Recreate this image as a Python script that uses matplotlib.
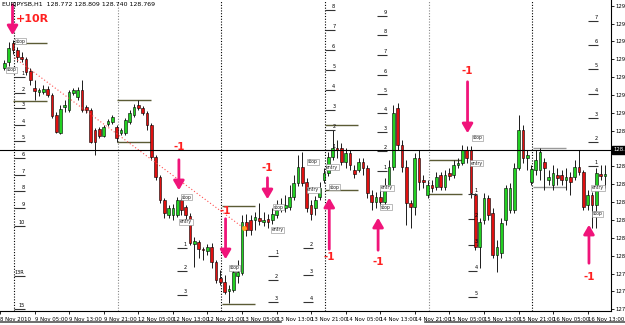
import matplotlib
matplotlib.use("Agg")
import matplotlib.pyplot as plt
import matplotlib.transforms as mtransforms
import numpy as np

# H1 candles, one per hour
opens = [129.344, 129.386, 129.519, 129.470, 129.421, 129.407, 129.323, 129.204, 129.176, 129.176,
         129.197, 129.155, 129.015, 128.889, 129.071, 129.050, 129.169, 129.141, 129.190, 129.071,
         129.050, 128.910, 128.917, 128.868, 128.952, 128.966, 128.931, 128.889, 128.889, 128.966,
         129.015, 129.085, 129.064, 129.029, 128.945, 128.721, 128.581, 128.420, 128.315, 128.315,
         128.315, 128.420, 128.371, 128.308, 128.112, 128.126, 128.077, 128.063, 128.091, 127.986,
         127.874, 127.846, 127.783, 127.790, 127.888, 127.909, 128.266, 128.280, 128.280, 128.294,
         128.266, 128.287, 128.280, 128.315, 128.357, 128.364, 128.371, 128.441, 128.539, 128.651,
         128.546, 128.385, 128.364, 128.441, 128.560, 128.609, 128.721, 128.784, 128.784, 128.686,
         128.749, 128.630, 128.630, 128.686, 128.644, 128.455, 128.406, 128.441, 128.406, 128.511,
         128.651, 129.064, 128.805, 128.651, 128.399, 128.371, 128.714, 128.560, 128.455, 128.525,
         128.511, 128.595, 128.511, 128.609, 128.595, 128.665, 128.679, 128.770, 128.770, 128.455,
         128.091, 128.280, 128.434, 128.329, 128.035, 128.049, 128.280, 128.350, 128.350, 128.644,
         128.910, 128.714, 128.546, 128.630, 128.630, 128.686, 128.560, 128.525, 128.595, 128.595,
         128.560, 128.581, 128.581, 128.651, 128.616, 128.385, 128.455, 128.385, 128.602, 128.588]
highs = [129.400, 129.526, 129.540, 129.491, 129.456, 129.421, 129.344, 129.260, 129.204, 129.225,
         129.218, 129.169, 129.036, 129.085, 129.120, 129.190, 129.204, 129.211, 129.260, 129.085,
         129.064, 128.924, 128.931, 128.945, 128.987, 129.015, 128.945, 128.924, 128.994, 129.050,
         129.092, 129.120, 129.078, 129.043, 128.959, 128.735, 128.595, 128.434, 128.385, 128.392,
         128.441, 128.434, 128.385, 128.329, 128.161, 128.140, 128.091, 128.112, 128.119, 128.000,
         127.930, 127.895, 127.825, 127.930, 128.000, 128.315, 128.322, 128.315, 128.336, 128.399,
         128.336, 128.322, 128.364, 128.420, 128.434, 128.455, 128.525, 128.595, 128.735, 128.756,
         128.574, 128.420, 128.448, 128.546, 128.644, 128.756, 128.910, 128.840, 128.819, 128.784,
         128.770, 128.665, 128.714, 128.714, 128.665, 128.490, 128.476, 128.490, 128.574, 128.700,
         129.085, 129.099, 128.840, 128.700, 128.420, 128.749, 128.770, 128.595, 128.560, 128.560,
         128.616, 128.616, 128.630, 128.644, 128.700, 128.714, 128.805, 128.798, 128.798, 128.469,
         128.294, 128.469, 128.455, 128.364, 128.140, 128.294, 128.525, 128.539, 128.679, 129.015,
         128.945, 128.770, 128.665, 128.770, 128.784, 128.714, 128.630, 128.665, 128.644, 128.630,
         128.644, 128.616, 128.700, 128.770, 128.630, 128.490, 128.476, 128.644, 128.665, 128.665]
lows = [129.330, 129.358, 129.442, 129.386, 129.386, 129.295, 129.225, 129.120, 129.148, 129.162,
        129.141, 128.994, 128.889, 128.882, 129.036, 129.036, 129.155, 129.120, 129.036, 129.029,
        128.819, 128.735, 128.854, 128.861, 128.938, 128.952, 128.826, 128.875, 128.875, 128.952,
        129.001, 129.050, 129.015, 128.910, 128.700, 128.560, 128.399, 128.294, 128.294, 128.280,
        128.301, 128.315, 128.280, 128.105, 127.951, 128.014, 128.000, 128.035, 127.944, 127.839,
        127.825, 127.762, 127.699, 127.776, 127.839, 127.895, 128.168, 128.175, 128.210, 128.245,
        128.238, 128.224, 128.252, 128.294, 128.336, 128.336, 128.350, 128.420, 128.518, 128.518,
        128.336, 128.280, 128.315, 128.420, 128.539, 128.588, 128.700, 128.714, 128.665, 128.644,
        128.630, 128.574, 128.616, 128.595, 128.434, 128.350, 128.364, 128.378, 128.385, 128.490,
        128.630, 128.770, 128.616, 128.245, 128.224, 128.315, 128.490, 128.504, 128.434, 128.476,
        128.490, 128.490, 128.490, 128.560, 128.574, 128.644, 128.665, 128.679, 128.434, 128.070,
        127.944, 128.252, 128.280, 128.014, 127.916, 128.014, 128.245, 128.329, 128.329, 128.630,
        128.679, 128.630, 128.525, 128.595, 128.560, 128.490, 128.525, 128.490, 128.525, 128.525,
        128.490, 128.455, 128.560, 128.595, 128.350, 128.350, 128.224, 128.224, 128.560, 128.504]
closes = [129.379, 129.484, 129.470, 129.421, 129.407, 129.316, 129.260, 129.183, 129.190, 129.197,
          129.155, 129.008, 128.896, 129.057, 129.085, 129.176, 129.190, 129.190, 129.050, 129.050,
          128.826, 128.826, 128.868, 128.931, 128.973, 129.001, 128.854, 128.910, 128.980, 129.029,
          129.071, 129.064, 129.029, 128.945, 128.721, 128.581, 128.420, 128.329, 128.364, 128.364,
          128.420, 128.350, 128.315, 128.119, 128.133, 128.077, 128.070, 128.091, 127.986, 127.860,
          127.846, 127.776, 127.797, 127.916, 127.916, 128.266, 128.210, 128.210, 128.301, 128.273,
          128.280, 128.266, 128.322, 128.350, 128.371, 128.385, 128.441, 128.539, 128.651, 128.539,
          128.364, 128.322, 128.420, 128.504, 128.609, 128.721, 128.784, 128.770, 128.686, 128.749,
          128.665, 128.602, 128.686, 128.644, 128.469, 128.406, 128.441, 128.406, 128.511, 128.651,
          129.029, 128.805, 128.651, 128.399, 128.371, 128.714, 128.546, 128.546, 128.525, 128.504,
          128.581, 128.511, 128.595, 128.588, 128.665, 128.679, 128.770, 128.714, 128.469, 128.091,
          128.266, 128.434, 128.315, 128.035, 128.091, 128.259, 128.504, 128.504, 128.644, 128.910,
          128.714, 128.735, 128.637, 128.700, 128.756, 128.644, 128.581, 128.609, 128.574, 128.560,
          128.581, 128.546, 128.651, 128.616, 128.371, 128.455, 128.385, 128.609, 128.588, 128.602]

time_ticks = [-1, 7, 15, 23, 31, 39, 47, 55, 63, 71, 79, 87, 95, 103, 111, 119, 127, 135]
time_labels = ["8 Nov 2010", "9 Nov 05:00", "9 Nov 13:00", "9 Nov 21:00", "12 Nov 05:00",
               "12 Nov 13:00", "12 Nov 21:00", "13 Nov 05:00", "13 Nov 13:00", "13 Nov 21:00",
               "14 Nov 05:00", "14 Nov 13:00", "14 Nov 21:00", "15 Nov 05:00", "15 Nov 13:00",
               "15 Nov 21:00", "16 Nov 05:00", "16 Nov 13:00"]
price_ticks = [129.78, 129.655, 129.53, 129.405, 129.28, 129.155, 129.03, 128.905, 128.655,
               128.53, 128.405, 128.28, 128.155, 128.03, 127.905, 127.78, 127.655]
bid_price = 128.77
title = "EURJPYSB,H1  128.772 128.809 128.740 128.769"

# day separators (bar index) and their colours
day_starts = [2.2, 26.2, 50.2, 74.2, 98.2, 122.2]
day_colors = ["black", "#888888", "black", "black", "#888888", "black"]

# opening range lines: start bar, end bar, high, low, colour
box_start = [2.1, 26.1, 50.3, 74.3, 98.2, 122.4]
box_end = [9.8, 34.0, 57.9, 81.9, 106.0, 130.0]
box_high = [129.519, 129.12, 128.378, 128.945, 128.70, 128.784]
box_low = [129.113, 128.826, 127.692, 128.49, 128.462, 128.511]
box_colors = ["#5b5b35", "#5b5b35", "#5b5b35", "#5b5b35", "#5b5b35", "#9a9a9a"]

# target levels drawn as short numbered ticks
lvl_x = [(2.3, 4.7), (39.9, 42.2), (61.1, 63.4), (69.2, 71.5), (74.3, 76.6),
         (86.2, 88.5), (107.2, 109.5), (135.1, 137.4)]
lvl_prices = [[129.281, 129.169, 129.064, 128.945, 128.833, 128.714, 128.595, 128.483,
               128.364, 128.238, 127.888, 127.657],
              [128.084, 127.923, 127.755],
              [128.028, 127.860, 127.706],
              [128.084, 127.895, 127.706],
              [128.77, 128.91, 129.05, 129.19, 129.33, 129.47, 129.61, 129.75],
              [128.623, 128.763, 128.896, 129.029, 129.162, 129.295, 129.435, 129.575, 129.708],
              [128.462, 128.287, 128.105, 127.923, 127.741],
              [128.658, 128.826, 128.994, 129.162, 129.337, 129.505, 129.673]]
lvl_labels = [["1", "2", "3", "4", "5", "6", "7", "8", "9", "10", "13R", "15"],
              ["1", "2", "3"], ["1", "2", "3"], ["2", "3", "4"],
              ["1", "2", "3", "4", "5", "6", "7", "8"],
              ["1", "2", "3", "4", "5", "6", "7", "8", "9"],
              ["1", "2", "3", "4", "5"],
              ["1", "2", "3", "4", "5", "6", "7"]]

# trade arrows: bar, tail price, head price, result text, text price
arrow_x = [1.9, 40.4, 51.2, 60.9, 75.2, 86.5, 107.2, 135.3]
arrow_from = [129.806, 128.721, 128.308, 128.595, 128.056, 128.049, 129.267, 127.958]
arrow_to = [129.554, 128.469, 127.986, 128.406, 128.455, 128.315, 128.868, 128.266]
arrow_text = ["+10R", "-1", "-1", "-1", "-1", "-1", "-1", "-1"]
text_price = [129.687, 128.79, 128.345, 128.644, 128.021, 127.986, 129.323, 127.881]

# small order labels
tag_x = [2.6, 0.5, 41.0, 40.6, 52.1, 61.8, 62.3, 70.3, 70.1, 74.5, 75.2, 87.2, 87.2, 108.4, 107.9, 136.0, 136.2]
tag_price = [129.533, 129.33, 128.441, 128.266, 127.944, 128.21, 128.371, 128.686, 128.49,
             128.651, 128.511, 128.504, 128.371, 128.854, 128.679, 128.504, 128.322]
tag_text = ["stop", "stop", "stop", "entry", "stop", "entry", "stop", "stop", "entry",
            "entry", "stop", "entry", "stop", "stop", "entry", "entry", "stop"]

# trend line from the short entry down to the low
trend_x = [2.4, 55.4]
trend_y = [129.414, 128.224]

small_font = ["Liberation Sans Narrow", "DejaVu Sans"]

fig = plt.figure(figsize=(6.25, 3.25), dpi=100)
ax = fig.add_axes([0, 14 / 325, 611 / 625, 311 / 325])
ax.set_xlim(-0.39, 140.4)
ax.set_ylim(127.643, 129.82)

# day separators
for d, c in zip(day_starts, day_colors):
    ax.axvline(d, color=c, lw=0.8, ls=(0, (1, 1.5)), zorder=1)

# opening range lines
for xs, xe, hi, lo, c in zip(box_start, box_end, box_high, box_low, box_colors):
    ax.hlines([hi, lo], xs, xe, color=c, lw=1.0, zorder=1)

# candles
o = np.array(opens)
h = np.array(highs)
l = np.array(lows)
c = np.array(closes)
idx = np.arange(len(c))
up = c >= o
ax.vlines(idx, l, h, color="#1a1a1a", lw=0.7, zorder=2)
body = np.maximum(np.abs(c - o), 0.005)
ax.bar(idx, body, bottom=np.minimum(o, c), width=0.62,
       color=np.where(up, "#22d022", "#e01010"), edgecolor="black", lw=0.4, zorder=3)

# numbered levels
for (xs, xe), prices, labels in zip(lvl_x, lvl_prices, lvl_labels):
    ax.hlines(prices, xs, xe, color="#333333", lw=0.8, zorder=2)
    for p, t in zip(prices, labels):
        ax.text(xe, p + 0.008, t, fontsize=3.6, ha="right", va="bottom",
                family=small_font, zorder=4)

# order tags
for x, p, t in zip(tag_x, tag_price, tag_text):
    ax.text(x, p, t, fontsize=3.3, ha="left", va="center", color="#222222",
            family=small_font, zorder=5,
            bbox=dict(boxstyle="square,pad=0.15", fc="white", ec="#888888", lw=0.4))

# trend line
ax.plot(trend_x, trend_y, color="#ff5050", lw=0.8, ls=(0, (1, 2)), zorder=4)
ax.plot(trend_x[1], trend_y[1], "o", ms=2.5, color="#ffa020", zorder=5)

# bid line
ax.axhline(bid_price, color="black", lw=0.8, zorder=4)

# arrows and results
for x, p0, p1, t, tp in zip(arrow_x, arrow_from, arrow_to, arrow_text, text_price):
    ax.annotate("", xy=(x, p1), xytext=(x, p0),
                arrowprops=dict(arrowstyle="-|>,head_length=0.6,head_width=0.35",
                                color="#f0147a", lw=2, mutation_scale=9),
                zorder=6)
    if t.startswith("+"):
        ax.text(x + 0.8, tp, t, fontsize=8, fontweight="bold", color="#ff2020",
                ha="left", va="center", zorder=6)
    else:
        ax.text(x, tp, t, fontsize=7.5, fontweight="bold", color="#ff2020",
                ha="center", va="center", zorder=6)

# axes styling like the terminal
for s in ["top", "left"]:
    ax.spines[s].set_visible(False)
ax.spines["right"].set_linewidth(0.8)
ax.spines["bottom"].set_linewidth(0.8)
ax.yaxis.tick_right()
ax.set_yticks(price_ticks)
ax.set_yticklabels(["%.2f" % v for v in price_ticks], fontsize=3.9, family=small_font)
ax.tick_params(axis="y", direction="out", length=2, width=0.6, pad=1)
ax.set_xticks(time_ticks)
ax.set_xticklabels(time_labels, fontsize=3.9, family=small_font)
for lbl in ax.get_xticklabels():
    lbl.set_ha("left")
ax.tick_params(axis="x", direction="out", length=2.5, width=0.6, pad=1.5)

# bid price box on the axis
trans = mtransforms.blended_transform_factory(ax.transAxes, ax.transData)
ax.text(1.004, bid_price, "128.77", transform=trans, fontsize=3.9, color="white",
        family=small_font, ha="left", va="center", zorder=7, clip_on=False,
        bbox=dict(boxstyle="square,pad=0.2", fc="black", ec="black"))

fig.text(0.004, 0.995, title, fontsize=4.5, va="top", ha="left", family=small_font)
fig.add_artist(plt.Line2D([0, 0.45], [3 / 325, 3 / 325], color="#555555", lw=1.2))
fig.add_artist(plt.Line2D([0.68, 1.0], [3 / 325, 3 / 325], color="#555555", lw=1.2))

fig.savefig("out.png", dpi=100)
